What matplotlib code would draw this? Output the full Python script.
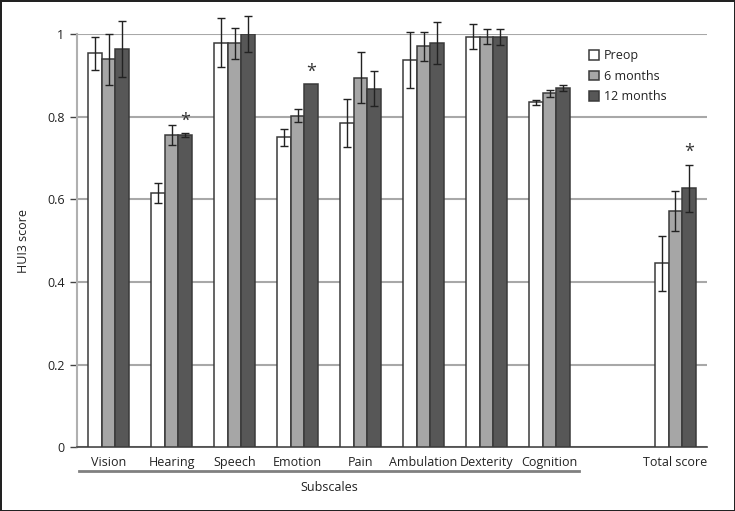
import numpy as np
import matplotlib
matplotlib.use('Agg')
import matplotlib.pyplot as plt
import matplotlib.transforms as mtransforms

plt.rcParams['font.family'] = ['Open Sans', 'DejaVu Sans']

# category slots (slot 8 left empty before the total score)
categories = ['Vision', 'Hearing', 'Speech', 'Emotion', 'Pain',
              'Ambulation', 'Dexterity', 'Cognition', 'Total score']
slots = [0, 1, 2, 3, 4, 5, 6, 7, 9]

preop = [0.953, 0.615, 0.979, 0.750, 0.785, 0.938, 0.993, 0.835, 0.445]
preop_err = [0.040, 0.024, 0.060, 0.020, 0.058, 0.068, 0.030, 0.006, 0.066]
m6 = [0.939, 0.756, 0.977, 0.802, 0.894, 0.970, 0.993, 0.856, 0.571]
m6_err = [0.062, 0.024, 0.038, 0.016, 0.062, 0.035, 0.018, 0.008, 0.048]
m12 = [0.964, 0.755, 1.000, 0.879, 0.868, 0.978, 0.993, 0.869, 0.627]
m12_err = [0.067, 0.005, 0.044, 0.0, 0.043, 0.051, 0.020, 0.007, 0.057]

# significant 12-month changes
star_idx = [1, 3, 8]

yticks = [0, 0.2, 0.4, 0.6, 0.8, 1.0]
ytick_labels = ['0', '0.2', '0.4', '0.6', '0.8', '1']

fig = plt.figure(figsize=(7.35, 5.11), dpi=100, linewidth=2, edgecolor='#222222')
ax = fig.add_axes([0.1048, 0.1247, 0.8571, 0.8088])

x = np.array(slots, dtype=float)
w = 0.214
series = [(preop, preop_err, 'white', 'Preop'),
          (m6, m6_err, '#a6a6a6', '6 months'),
          (m12, m12_err, '#575757', '12 months')]

for k, (vals, errs, col, lab) in enumerate(series):
    xs = x + (k - 1) * w
    vals = np.array(vals)
    errs = np.array(errs)
    ax.bar(xs, vals, width=w, color=col, edgecolor='#3a3a3a', linewidth=1.1,
           label=lab, zorder=3)
    has = errs > 0  # no bar drawn where no error was given
    ax.errorbar(xs[has], vals[has], yerr=errs[has], fmt='none', ecolor='#222222',
                elinewidth=1.0, capsize=2.6, capthick=1.0, zorder=4, clip_on=False)

for i in star_idx:
    top = m12[i] + m12_err[i]
    ax.text(x[i] + w, top + 0.008, '*', ha='center', va='bottom', fontsize=13,
            color='#333333')

ax.set_xlim(-0.5, 9.5)
ax.set_ylim(0, 1)
ax.set_yticks(yticks)
ax.set_yticklabels(ytick_labels)
ax.set_xticks(x)
ax.set_xticklabels(categories)
ax.tick_params(axis='x', length=0, pad=6, labelsize=9, labelcolor='#222222')
ax.tick_params(axis='y', length=5, width=1, color='#444444', labelsize=9,
               labelcolor='#222222', pad=4)
ax.yaxis.grid(True, color='#a8a8a8', linewidth=1.5, zorder=0)
ax.set_axisbelow(True)

for s in ['top', 'right']:
    ax.spines[s].set_visible(False)
ax.spines['left'].set_color('#b0b0b0')
ax.spines['left'].set_linewidth(1.5)
ax.spines['bottom'].set_color('#444444')
ax.spines['bottom'].set_linewidth(1.2)

ax.set_ylabel('HUI3 score', fontsize=9, color='#222222', labelpad=12)

# bracket line for subscales
trans = mtransforms.blended_transform_factory(ax.transData, ax.transAxes)
ax.plot([-0.47, 7.47], [-0.057, -0.057], transform=trans, color='#808080',
        linewidth=2, clip_on=False)
ax.text(3.5, -0.097, 'Subscales', transform=trans, ha='center', va='center',
        fontsize=9, color='#222222')

leg = ax.legend(loc='upper left', bbox_to_anchor=(0.795, 0.99), frameon=False,
                fontsize=9, handlelength=0.8, handleheight=0.8, handletextpad=0.4,
                labelspacing=0.6)
for t in leg.get_texts():
    t.set_color('#222222')

fig.savefig('out.png', dpi=100)
